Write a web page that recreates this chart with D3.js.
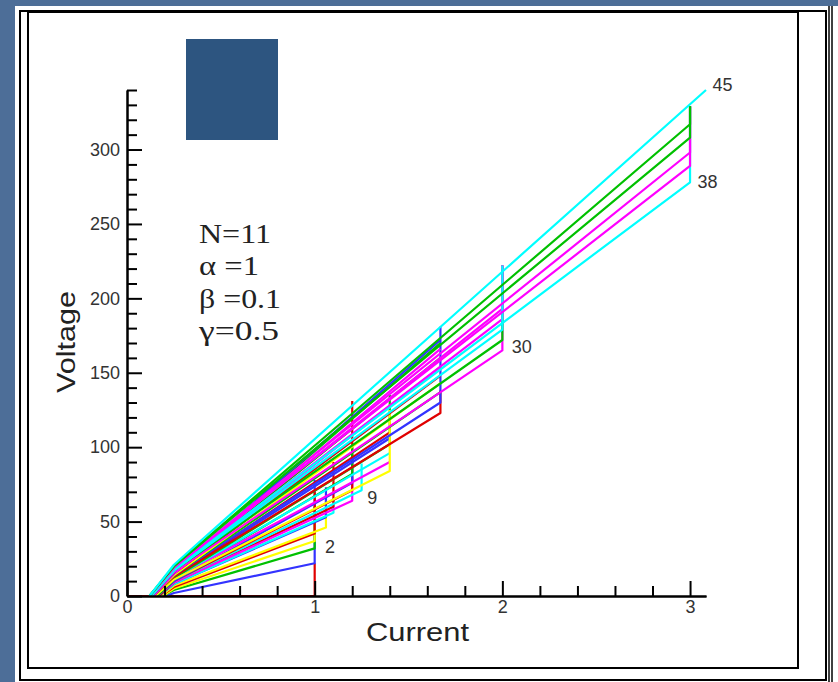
<!DOCTYPE html>
<html>
<head>
<meta charset="utf-8">
<script src="https://cdn.jsdelivr.net/npm/d3@7"></script>
<style>
  body { margin: 0; background: #4d6e98; }
  svg { display: block; }
</style>
</head>
<body>
<script>
const width = 838, height = 682;

// axis ticks
const xMajorTicks = [0, 1, 2, 3];
const yMajorTicks = [0, 50, 100, 150, 200, 250, 300];

// branches in drawing order: start current, voltage at I=0.25, end current, voltage at end, top of the jump
const branchStartI = [0, 0.21, 0.19, 0.19, 0.18, 0.18, 0.17, 0.17, 0.17, 0.16, 0.16, 0.16, 0.16, 0.16,
  0.15, 0.15, 0.15, 0.15, 0.15, 0.15, 0.14, 0.14, 0.14, 0.14, 0.14, 0.14,
  0.13, 0.13, 0.13, 0.13, 0.13, 0.13, 0.13, 0.13, 0.13, 0.12, 0.12, 0.12, 0.12, 0.12, 0.12];
const branchKneeV = [0, 2, 4, 5, 6, 7, 8, 8, 9, 9, 10, 10, 10, 11, 12, 12, 12, 13, 13, 11,
  13, 14, 14, 14, 15, 15, 16, 16, 16, 16, 16, 17, 17, 18, 17, 18, 19, 19, 20, 20, 21];
const branchEndI = [1, 1, 1, 1, 1, 1.06, 1.06, 1.1, 1.1, 1.2, 1.25, 1.2, 1.2, 1.2,
  1.4, 1.4, 1.4, 1.4, 1.4, 1.4, 1.67, 1.67, 1.67, 1.67, 1.67, 1.67, 1.67, 1.67, 1.67, 1.67,
  2, 2, 2, 2, 2, 3, 3, 3, 3, 3, 3.085];
const branchEndV = [0, 22, 32, 37, 42, 46, 53, 56, 60, 64, 71, 71, 76, 82,
  90, 96, 102, 106, 110, 84, 123, 130, 137, 143, 148, 154, 160, 166, 170, 172,
  165, 172, 186, 193, 179, 278, 289, 298, 308, 317, 340];
const branchJumpV = [22, 78, 60, 55, 70, 67, 73, 66, 90, 80, 89, 131, 95, 100,
  90, 96, 135, 106, 110, 125, 138, 181, 137, 143, 148, 154, 160, 166, 170, 172,
  222, 222, 222, 222, 222, 329, 329, 329, 329, 329, 340];
const branchColor = ["#e00000", "#3333ff", "#00c000", "#ffff00", "#e00000", "#ffff00", "#3333ff", "#00ffff",
  "#e00000", "#ff00ff", "#00ffff", "#e00000", "#3333ff", "#00c000",
  "#ff00ff", "#00ffff", "#00c000", "#3333ff", "#e00000", "#ffff00",
  "#e00000", "#3333ff", "#00c000", "#ffff00", "#e00000", "#ff00ff", "#00c000", "#ff00ff", "#00c000", "#3333ff",
  "#ff00ff", "#00c000", "#ff00ff", "#ff00ff", "#00ffff",
  "#00ffff", "#ff00ff", "#ff00ff", "#00c000", "#00c000", "#00ffff"];

// curve labels
const curveLabels = ["45", "38", "30", "9", "2"];
const curveLabelI = [3.12, 3.04, 2.05, 1.28, 1.055];
const curveLabelV = [339, 274, 163, 62, 29];

const svg = d3.select("body").append("svg")
  .attr("width", width)
  .attr("height", height);

// white page and frame
svg.append("rect").attr("x", 15).attr("y", 6).attr("width", width - 15).attr("height", height - 6).attr("fill", "#ffffff");
svg.append("rect").attr("x", 20).attr("y", 11).attr("width", 806).attr("height", 669)
  .attr("fill", "none").attr("stroke", "#000").attr("stroke-width", 2);
svg.append("rect").attr("x", 28).attr("y", 12).attr("width", 770).attr("height", 656)
  .attr("fill", "none").attr("stroke", "#000").attr("stroke-width", 2);
[829, 832].forEach(x => {
  svg.append("line").attr("x1", x).attr("x2", x).attr("y1", 6).attr("y2", height)
    .attr("stroke", "#000").attr("stroke-width", 1.5);
});

svg.append("rect").attr("x", 186).attr("y", 39).attr("width", 92).attr("height", 101).attr("fill", "#2d5580");

const x = d3.scaleLinear().domain([0, 3.085]).range([127, 706]);
const y = d3.scaleLinear().domain([0, 340]).range([596, 90]);

const line = d3.line().x(d => x(d[0])).y(d => y(d[1]));

svg.append("g")
  .attr("fill", "none")
  .attr("stroke-width", 2.2)
  .attr("stroke-linejoin", "round")
  .selectAll("path")
  .data(branchEndI.map((e, i) => i))
  .join("path")
  .attr("stroke", i => branchColor[i])
  .attr("d", i => line([
    [branchStartI[i], 0],
    [0.25, branchKneeV[i]],
    [branchEndI[i], branchEndV[i]],
    [branchEndI[i], branchJumpV[i]]
  ]));

// axes, ticks pointing inward
const xMinor = d3.range(0, 3.05, 0.2).filter(v => Math.abs(v - Math.round(v)) > 0.01);
const yMinor = d3.range(0, 341, 10).filter(v => v % 50 !== 0);

const axisStyle = g => {
  g.selectAll("path, line").attr("stroke", "#000").attr("stroke-width", 2);
  g.selectAll("text").attr("fill", "#333").style("font-family", "'Liberation Sans', Arial, sans-serif").style("font-size", "18px");
};

svg.append("g").attr("transform", "translate(0,596)")
  .call(d3.axisBottom(x).tickValues(xMinor).tickSizeInner(-10).tickSizeOuter(0).tickFormat(""))
  .call(axisStyle);
svg.append("g").attr("transform", "translate(0,596)")
  .call(d3.axisBottom(x).tickValues(xMajorTicks).tickSizeInner(-15).tickSizeOuter(0).tickPadding(4).tickFormat(d3.format("d")))
  .call(axisStyle);

svg.append("g").attr("transform", "translate(127,0)")
  .call(d3.axisLeft(y).tickValues(yMinor).tickSizeInner(-10).tickSizeOuter(0).tickFormat(""))
  .call(axisStyle);
svg.append("g").attr("transform", "translate(127,0)")
  .call(d3.axisLeft(y).tickValues(yMajorTicks).tickSizeInner(-15).tickSizeOuter(0).tickPadding(7).tickFormat(d3.format("d")))
  .call(axisStyle);

// axis titles
svg.append("text")
  .attr("x", 366).attr("y", 641)
  .attr("textLength", 103).attr("lengthAdjust", "spacingAndGlyphs")
  .style("font-family", "'Liberation Sans', Arial, sans-serif").style("font-size", "25px")
  .attr("fill", "#222")
  .text("Current");

svg.append("text")
  .attr("transform", "translate(75,393) rotate(-90)")
  .attr("textLength", 102).attr("lengthAdjust", "spacingAndGlyphs")
  .style("font-family", "'Liberation Sans', Arial, sans-serif").style("font-size", "26px")
  .attr("fill", "#222")
  .text("Voltage");

// parameters
const params = ["N=11", "\u03b1 =1", "\u03b2 =0.1", "\u03b3=0.5"];
const paramBase = [243, 275, 308, 340];
const paramWidth = [72, 60, 82, 80];
svg.append("g")
  .selectAll("text")
  .data(params)
  .join("text")
  .attr("x", 199)
  .attr("y", (d, i) => paramBase[i])
  .attr("textLength", (d, i) => paramWidth[i])
  .attr("lengthAdjust", "spacingAndGlyphs")
  .style("font-family", "'Liberation Serif', 'Times New Roman', serif")
  .style("font-size", "27px")
  .attr("fill", "#222")
  .text(d => d);

svg.append("g")
  .selectAll("text")
  .data(curveLabels)
  .join("text")
  .attr("x", (d, i) => x(curveLabelI[i]))
  .attr("y", (d, i) => y(curveLabelV[i]))
  .style("font-family", "'Liberation Sans', Arial, sans-serif")
  .style("font-size", "18px")
  .attr("fill", "#333")
  .text(d => d);
</script>
</body>
</html>
